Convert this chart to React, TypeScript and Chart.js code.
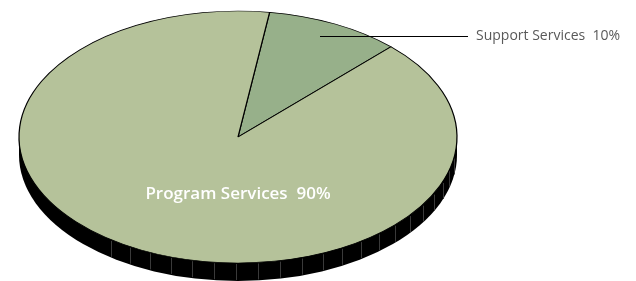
import React, { useEffect, useRef } from "react";
import { Chart, registerables } from "chart.js";

Chart.register(...registerables);

const categories = ["Support Services", "Program Services"];
const values = [10, 90];
const percentLabels = ["10%", "90%"];
const sliceColors = ["#97B08A", "#B5C29A"];

const ELLIPSE = { cx: 238, cy: 137, rx: 219, ry: 126, depth: 18 };

const pie3dPlugin = {
  id: "pie3d",
  beforeDatasetsDraw(chart: any) {
    const meta = chart.getDatasetMeta(0);
    const arc = meta.data[0];
    if (!arc) return;
    const { x: ax, y: ay, outerRadius: r } = arc;
    const ctx = chart.ctx as CanvasRenderingContext2D;
    const { cx, cy, rx, ry, depth } = ELLIPSE;
    // extrusion
    ctx.save();
    ctx.fillStyle = "#000";
    ctx.beginPath();
    ctx.ellipse(cx, cy + depth, rx, ry, 0, 0, Math.PI * 2);
    ctx.fill();
    ctx.fillRect(cx - rx, cy, rx * 2, depth);
    ctx.strokeStyle = "#3a3a3a";
    ctx.lineWidth = 1;
    for (let deg = -35.3; deg < 86; deg += 5.8) {
      const p = (deg * Math.PI) / 180;
      const x = Math.round(cx + rx * Math.sin(p)) + 0.5;
      const yt = cy + ry * Math.cos(p) + 1;
      ctx.beginPath();
      ctx.moveTo(x, yt);
      ctx.lineTo(x, yt + depth - 2);
      ctx.stroke();
    }
    ctx.restore();
    ctx.save();
    ctx.translate(cx, cy);
    ctx.scale(rx / r, ry / r);
    ctx.translate(-ax, -ay);
  },
  afterDatasetsDraw(chart: any) {
    const ctx = chart.ctx as CanvasRenderingContext2D;
    ctx.restore();
    ctx.save();
    // leader line
    ctx.strokeStyle = "#000";
    ctx.lineWidth = 1;
    ctx.beginPath();
    ctx.moveTo(320, 36.5);
    ctx.lineTo(468, 36.5);
    ctx.stroke();
    ctx.fillStyle = "#595959";
    ctx.font = '14px "Open Sans"';
    ctx.textBaseline = "middle";
    ctx.textAlign = "left";
    ctx.fillText(categories[0] + "  " + percentLabels[0], 476, 36);
    ctx.fillStyle = "#ffffff";
    ctx.font = '600 17px "Open Sans"';
    ctx.textAlign = "center";
    ctx.fillText(categories[1] + "  " + percentLabels[1], 238, 194);
    ctx.restore();
  },
};

export default function App() {
  const ref = useRef<HTMLCanvasElement>(null);
  useEffect(() => {
    if (!ref.current) return;
    const chart = new Chart(ref.current, {
      type: "pie",
      data: {
        labels: categories,
        datasets: [
          {
            data: values,
            backgroundColor: sliceColors,
            borderColor: "#000",
            borderWidth: 0.8,
          },
        ],
      },
      options: {
        responsive: false,
        animation: false,
        rotation: 8.3,
        layout: { padding: 0 },
        plugins: {
          legend: { display: false },
          tooltip: { enabled: false },
        },
      },
      plugins: [pie3dPlugin],
    });
    return () => chart.destroy();
  }, []);
  return (
    <div style={{ position: "absolute", left: 0, top: 0, width: 636, height: 281, background: "#fff" }}>
      <canvas ref={ref} width={636} height={281} style={{ width: 636, height: 281 }} />
    </div>
  );
}
